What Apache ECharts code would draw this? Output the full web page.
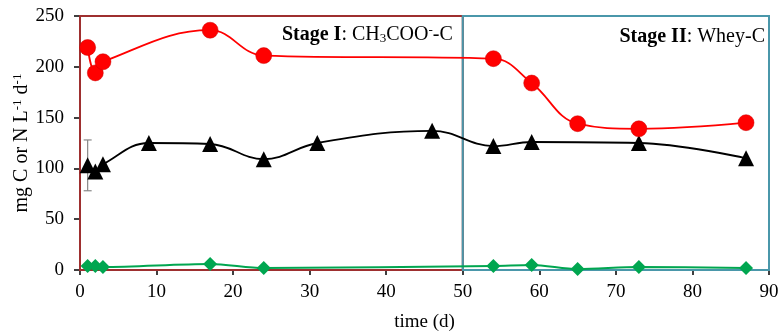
<!DOCTYPE html>
<html><head><meta charset="utf-8">
<script src="https://cdn.jsdelivr.net/npm/echarts@6/dist/echarts.min.js"></script>
<style>html,body{margin:0;padding:0;background:#fff}#c{width:781px;height:333px}</style>
</head><body><div id="c"></div>
<script>
const redDays = [1, 2, 3, 17, 24, 54, 59, 65, 73, 87];
const redVals = [219, 194, 205, 236, 211, 208, 184, 144, 139, 145];
const redErr  = [3, 3, 3, 3, 3, 3, 3, 3, 3, 3];
const blackDays = [1, 2, 3, 9, 17, 24, 31, 46, 54, 59, 73, 87];
const blackVals = [103, 97, 104, 125, 124, 109, 125, 137, 122, 126, 125, 110];
const blackErr  = [25, 0, 0, 0, 0, 0, 0, 0, 0, 0, 0, 0];
const greenDays = [1, 2, 3, 17, 24, 54, 59, 65, 73, 87];
const greenVals = [4, 4, 3, 6, 2, 4, 5, 1, 3, 2];
const xTicks = [0, 10, 20, 30, 40, 50, 60, 70, 80, 90];
const yTicks = [0, 50, 100, 150, 200, 250];
const stageBounds = [0, 50, 90];
const stageLabels = ['{bold|Stage I}{norm|: CH}{sub|3}{norm|COO}{sup|-}{norm|-C}', '{bold|Stage II}{norm|: Whey-C}'];

const pairs = (xs, ys) => xs.map((x, i) => [x, ys[i]]);
const errData = (xs, ys, es) => xs.map((x, i) => [x, ys[i] - es[i], ys[i] + es[i]]).filter((d, i) => es[i] > 0);
const font = 'Liberation Serif';
const rich = {
  bold: {fontFamily: font, fontSize: 20, fontWeight: 'bold', fill: '#000', color: '#000'},
  norm: {fontFamily: font, fontSize: 20, fill: '#000', color: '#000'},
  sub: {fontFamily: font, fontSize: 13, fill: '#000', color: '#000', verticalAlign: 'bottom', padding: [7, 0, 0, 0]},
  sup: {fontFamily: font, fontSize: 13, fill: '#000', color: '#000', verticalAlign: 'top', padding: [0, 0, 8, 0]}
};
const richY = {
  norm: {fontFamily: font, fontSize: 20, color: '#000'},
  sup: {fontFamily: font, fontSize: 13, color: '#000', verticalAlign: 'top', padding: [0, 0, 8, 0]}
};
function errSeries(data, color) {
  return {
    type: 'custom', data: data, z: 1,
    renderItem: function (params, api) {
      const x = api.value(0);
      const lo = api.coord([x, api.value(1)]);
      const hi = api.coord([x, api.value(2)]);
      const w = 4;
      const st = {stroke: color, lineWidth: 1.2};
      return {type: 'group', children: [
        {type: 'line', shape: {x1: lo[0], y1: lo[1], x2: hi[0], y2: hi[1]}, style: st},
        {type: 'line', shape: {x1: lo[0] - w, y1: lo[1], x2: lo[0] + w, y2: lo[1]}, style: st},
        {type: 'line', shape: {x1: hi[0] - w, y1: hi[1], x2: hi[0] + w, y2: hi[1]}, style: st}
      ]};
    }
  };
}
const boxColors = ['#9e2f2f', '#4a97aa'];
const chart = echarts.init(document.getElementById('c'));
chart.setOption({
  animation: false,
  grid: {left: 80, right: 12, top: 16, bottom: 63, containLabel: false, outerBoundsMode: 'none'},
  xAxis: {
    type: 'value', min: xTicks[0], max: xTicks[xTicks.length - 1], interval: 10,
    name: 'time (d)', nameLocation: 'middle', nameGap: 43, nameMoveOverlap: false,
    nameTextStyle: {fontFamily: font, fontSize: 19, color: '#000'},
    axisLine: {lineStyle: {color: '#000', width: 1.5}},
    axisTick: {show: true, inside: false, length: 5, lineStyle: {color: '#000', width: 1.5}},
    axisLabel: {fontFamily: font, fontSize: 19, color: '#000', margin: 13},
    splitLine: {show: false}
  },
  yAxis: {
    type: 'value', min: yTicks[0], max: yTicks[yTicks.length - 1], interval: 50,
    name: '{norm|mg C or N L}{sup|-1}{norm| d}{sup|-1}', nameLocation: 'middle', nameGap: 48, nameRotate: 90,
    nameMoveOverlap: false,
    nameTextStyle: {rich: richY},
    axisLine: {show: true, lineStyle: {color: '#000', width: 1.5}},
    axisTick: {show: true, inside: false, length: 6, lineStyle: {color: '#000', width: 1.5}},
    axisLabel: {fontFamily: font, fontSize: 19, color: '#000', margin: 16},
    splitLine: {show: false}
  },
  series: [
    errSeries(errData(redDays, redVals, redErr), '#888'),
    errSeries(errData(blackDays, blackVals, blackErr), '#888'),
    {
      type: 'line', data: pairs(greenDays, greenVals), smooth: 0.3, symbol: 'diamond', symbolSize: 14,
      lineStyle: {color: '#00a650', width: 2}, itemStyle: {color: '#00a650'}, z: 3,
      markArea: {
        silent: true,
        data: [0, 1].map(i => [
          {xAxis: stageBounds[i], yAxis: yTicks[0],
           itemStyle: {color: 'rgba(0,0,0,0)', borderColor: boxColors[i], borderWidth: 2}},
          {xAxis: stageBounds[i + 1], yAxis: yTicks[yTicks.length - 1]}
        ])
      }
    },
    {
      type: 'line', data: pairs(blackDays, blackVals), smooth: 0.4, symbol: 'triangle', symbolSize: 16,
      lineStyle: {color: '#000', width: 1.8}, itemStyle: {color: '#000'}, z: 3
    },
    {
      type: 'line', data: pairs(redDays, redVals), smooth: 0.4, symbol: 'circle', symbolSize: 16,
      lineStyle: {color: '#ff0000', width: 1.8}, itemStyle: {color: '#ff0000', borderColor: '#c00', borderWidth: 0.5}, z: 4
    }
  ]
});
const offsets = [[-10, 19], [-4, 21]];
const texts = [0, 1].map(i => {
  const p = chart.convertToPixel({gridIndex: 0}, [stageBounds[i + 1], yTicks[yTicks.length - 1]]);
  return {
    type: 'text', x: p[0] + offsets[i][0], y: p[1] + offsets[i][1], z: 100,
    style: {text: stageLabels[i], rich: rich, align: 'right', verticalAlign: 'middle', fill: '#000'}
  };
});
chart.setOption({graphic: texts});
</script></body></html>
